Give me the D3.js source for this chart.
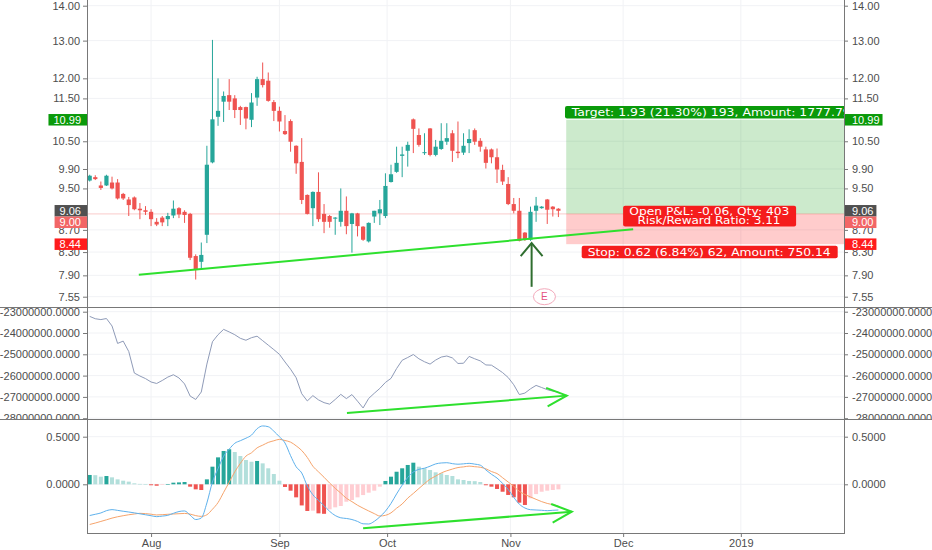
<!DOCTYPE html>
<html><head><meta charset="utf-8">
<script src="https://cdn.jsdelivr.net/npm/d3@7"></script>
<style>
body{margin:0;background:#fff;}
svg text{font-family:"Liberation Sans",Arial,sans-serif;}
</style>
</head><body>
<svg id="c" width="932" height="550"></svg>
<script>
// ---------- DATA ----------
const open = [9.66,9.73,9.56,9.56,9.62,9.62,9.39,9.28,9.32,9.10, 9.07,9.04,8.85,8.93,8.90,8.97,9.11,9.04,9.00,8.23, 8.13,8.61,10.04,11.06,11.42,11.58,11.50,11.29,11.29,10.99, 11.52,11.98,11.94,11.41,11.20,10.73,10.96,10.40,10.05,9.37, 9.11,9.43,9.00,8.96,8.91,8.85,9.06,8.81,9.01,8.76, 8.49,8.95,9.01,8.96,9.63,9.84,10.18,10.29,11.00,10.64, 10.24,10.79,10.20,10.33,10.49,10.68,10.27,10.25,10.46,10.75, 10.51,10.32,10.32,10.15,9.88,9.59,9.19,9.06,8.65,8.52, 9.06,9.11,9.28,9.14,9.10];
const high = [9.78,9.77,9.64,9.78,9.74,9.69,9.41,9.33,9.34,9.21, 9.15,9.09,8.92,8.96,9.02,9.26,9.13,9.07,9.02,8.26, 8.47,10.40,13.02,12.00,11.67,11.98,11.58,11.32,11.30,11.63, 12.04,12.41,12.15,11.46,11.30,11.10,11.00,10.41,10.57,9.38, 9.44,9.83,9.19,8.98,8.94,9.50,9.34,9.02,9.02,8.77, 8.84,9.06,9.27,9.81,9.99,10.38,10.38,10.49,11.02,10.79, 10.68,10.80,10.53,10.91,10.91,10.75,10.95,10.68,10.77,10.79, 10.57,10.38,10.34,10.34,9.99,9.73,9.31,9.31,8.66,9.14, 9.33,9.15,9.29,9.15,9.11];
const low = [9.64,9.67,9.47,9.55,9.48,9.28,9.27,8.96,9.07,8.90, 8.98,8.77,8.77,8.77,8.77,8.92,8.92,8.83,8.16,7.83, 7.99,8.46,10.02,10.85,10.94,11.22,11.03,10.87,10.77,10.82, 11.32,11.77,11.42,10.96,10.72,10.64,10.27,9.80,9.19,8.99, 8.77,8.85,8.64,8.74,8.61,8.76,8.62,8.29,8.58,8.50, 8.47,8.83,8.79,8.92,9.62,9.82,9.73,9.95,10.24,10.38, 10.20,10.17,10.17,10.31,10.42,10.05,10.13,10.20,10.24,10.42, 10.27,9.91,10.02,9.61,9.57,9.17,9.01,8.49,8.50,8.50, 8.85,9.10,8.81,8.95,8.94];
const close = [9.76,9.69,9.51,9.76,9.50,9.30,9.30,9.17,9.09,9.07, 9.04,8.90,8.80,8.84,8.96,9.10,8.99,8.98,8.20,8.00, 8.25,9.99,11.00,11.20,11.56,11.42,11.22,11.22,11.02,11.40, 11.98,11.83,11.44,11.20,10.95,10.66,10.49,10.02,9.27,9.00, 9.43,8.90,8.85,8.85,8.93,9.06,8.77,9.01,8.77,8.52, 8.83,9.06,9.09,9.55,9.79,10.03,10.21,10.42,10.78,10.42, 10.26,10.20,10.38,10.51,10.57,10.29,10.24,10.40,10.55,10.49, 10.38,10.03,10.15,9.89,9.64,9.19,9.06,8.50,8.53,9.04, 9.16,9.14,9.08,9.09,9.06];

// middle indicator (millions)
const obvM = [-23.22,-23.33,-23.37,-23.32,-23.67,-24.49,-24.38,-24.87,-25.88,-26.02,
-26.14,-26.30,-26.37,-26.23,-26.07,-25.96,-26.11,-26.39,-26.96,-27.12,
-26.77,-25.46,-24.41,-24.08,-23.83,-23.95,-24.08,-24.25,-24.34,-24.22,
-24.15,-24.36,-24.57,-24.78,-25.00,-25.36,-25.70,-26.10,-26.85,-27.19,
-26.94,-27.14,-27.27,-27.34,-27.12,-26.88,-27.08,-26.89,-27.20,-27.52,
-27.07,-26.83,-26.60,-26.32,-26.13,-25.67,-25.28,-25.15,-25.01,-25.21,
-25.35,-25.46,-25.27,-25.13,-25.08,-25.17,-25.43,-25.42,-25.10,-25.21,
-25.31,-25.50,-25.51,-25.68,-25.86,-26.09,-26.43,-26.89,-26.82,-26.62,
-26.46,-26.56,-26.66,-26.73,-26.77];

const macd = [-0.328,-0.315,-0.301,-0.277,-0.266,-0.274,-0.283,-0.291,-0.300,-0.310,
-0.320,-0.330,-0.340,-0.334,-0.326,-0.305,-0.286,-0.280,-0.324,-0.370,
-0.354,-0.196,0.024,0.164,0.295,0.369,0.431,0.458,0.484,0.517,
0.584,0.613,0.605,0.558,0.499,0.434,0.301,0.184,0.119,-0.018,
-0.110,-0.169,-0.225,-0.284,-0.328,-0.352,-0.359,-0.370,-0.390,-0.415,
-0.417,-0.389,-0.342,-0.282,-0.201,-0.101,-0.009,0.072,0.129,0.157,
0.169,0.190,0.214,0.224,0.227,0.217,0.211,0.215,0.220,0.212,
0.201,0.151,0.105,0.066,0.009,-0.054,-0.137,-0.209,-0.249,-0.267,
-0.270,-0.273,-0.277,-0.273,-0.270];
const signal = [-0.422,-0.407,-0.390,-0.373,-0.355,-0.341,-0.330,-0.320,-0.312,-0.305,
-0.308,-0.314,-0.322,-0.319,-0.315,-0.312,-0.309,-0.306,-0.313,-0.329,
-0.337,-0.320,-0.262,-0.192,-0.085,0.022,0.131,0.220,0.296,0.331,
0.383,0.411,0.440,0.457,0.472,0.460,0.443,0.404,0.355,0.282,
0.190,0.131,0.074,0.013,-0.042,-0.093,-0.146,-0.182,-0.220,-0.251,
-0.280,-0.308,-0.333,-0.326,-0.300,-0.251,-0.207,-0.145,-0.096,-0.044,
0.007,0.054,0.086,0.119,0.142,0.160,0.176,0.183,0.191,0.185,
0.179,0.163,0.134,0.113,0.069,0.024,-0.021,-0.074,-0.107,-0.133,
-0.158,-0.182,-0.201,-0.214,-0.228];
const hist = [0.098,0.096,0.080,0.087,0.073,0.052,0.038,0.028,0.010,0.004,
0.001,-0.010,-0.015,-0.007,0.002,0.017,0.020,0.024,-0.025,-0.053,
-0.060,0.052,0.185,0.283,0.350,0.368,0.339,0.297,0.255,0.237,
0.245,0.220,0.168,0.108,0.038,-0.028,-0.067,-0.137,-0.222,-0.280,
-0.277,-0.305,-0.310,-0.263,-0.242,-0.228,-0.183,-0.165,-0.137,-0.113,
-0.088,-0.067,-0.025,0.035,0.080,0.132,0.168,0.203,0.227,0.185,
0.168,0.150,0.126,0.116,0.098,0.087,0.052,0.045,0.035,0.033,
0.024,-0.010,-0.025,-0.049,-0.078,-0.112,-0.137,-0.193,-0.217,-0.147,
-0.103,-0.078,-0.067,-0.060,-0.053];

const xTickLabels = ["Aug","Sep","Oct","Nov","Dec","2019"];
const xTickPos = [11, 34, 53.3, 75.4, 95.6, 116.7];   // in bar units
const priceTicks = [14, 13, 12, 11.5, 10.5, 9.9, 9.5, 8.7, 8.3, 7.9, 7.55];
const obvTicks = [-23, -24, -25, -26, -27, -28];       // millions
const macdTicks = [0, 0.5];
const priceMarks = [10.99, 9.06, 9.00, 8.44];

// position tool
const posStartIdx = 85.4, posEndIdx = 140;
const posEntry = 9.00, posTarget = 10.99, posStop = 8.44;
const targetText = "Target: 1.93 (21.30%) 193, Amount: 1777.79";
const pnlText = ["Open P&L: -0.06, Qty: 403", "Risk/Reward Ratio: 3.11"];
const stopText = "Stop: 0.62 (6.84%) 62, Amount: 750.14";

// drawings (bar index, value)
const trendLine = [{i: 8.8, v: 7.91}, {i: 97.4, v: 8.71}];
const entryArrow = [{i: 79.2, v: 7.71}, {i: 79.2, v: 8.46}];
const earnings = {i: 81.5, v: 7.55, label: "E"};
const obvArrow = [{i: 46.1, v: -27.76}, {i: 85.5, v: -26.94}];
const macdArrow = [{i: 49.0, v: -0.462}, {i: 86.4, v: -0.288}];

// ---------- SETUP ----------
const svg = d3.select("#c");
const XL = 87, XR = 844;
const UP = "#26a69a", DN = "#ef5350";
const AX = "#787878", TXT = "#4d4d4d", GRID = "#f1f2f5";
const FONT = "Liberation Sans, Arial, sans-serif";

const x = d3.scaleLinear().domain([0, 84]).range([89.7, 558.4]);
const yP = d3.scaleLog().domain([7.55, 14]).range([296.7, 5.7]);
const yO = d3.scaleLinear().domain([-23, -28]).range([311.7, 418.2]);
const yM = d3.scaleLinear().domain([0, 0.5]).range([484.3, 436.7]);

const defs = svg.append("defs");
function clip(id, x0, y0, w, h) {
  defs.append("clipPath").attr("id", id).append("rect").attr("x", x0).attr("y", y0).attr("width", w).attr("height", h);
}
clip("cP", XL, 0, XR - XL, 307);
clip("cO", XL, 307, XR - XL, 112);
clip("cM", XL, 419, XR - XL, 114);
clip("aO", 0, 307.5, 932, 111.5);
clip("aM", 0, 419.5, 932, 113.5);

// ---------- GRID ----------
const grid = svg.append("g");
grid.selectAll("line.v").data(xTickPos).join("line")
  .attr("x1", d => x(d)).attr("x2", d => x(d)).attr("y1", 0).attr("y2", 533)
  .attr("stroke", GRID).attr("stroke-width", 1);
grid.selectAll("line.hp").data(priceTicks).join("line").attr("class","hp")
  .attr("x1", XL).attr("x2", XR).attr("y1", d => yP(d)).attr("y2", d => yP(d))
  .attr("stroke", GRID);
grid.selectAll("line.ho").data(obvTicks).join("line").attr("class","ho")
  .attr("x1", XL).attr("x2", XR).attr("y1", d => yO(d)).attr("y2", d => yO(d))
  .attr("stroke", GRID);
grid.selectAll("line.hm").data(macdTicks).join("line").attr("class","hm")
  .attr("x1", XL).attr("x2", XR).attr("y1", d => yM(d)).attr("y2", d => yM(d))
  .attr("stroke", GRID);

// ---------- PRICE PANE ----------
const gp = svg.append("g").attr("clip-path", "url(#cP)");
// position tool zones
gp.append("rect").attr("x", x(posStartIdx)).attr("width", x(posEndIdx) - x(posStartIdx))
  .attr("y", yP(posTarget)).attr("height", yP(posEntry) - yP(posTarget))
  .attr("fill", "rgba(0,150,0,0.2)");
gp.append("rect").attr("x", x(posStartIdx)).attr("width", x(posEndIdx) - x(posStartIdx))
  .attr("y", yP(posEntry)).attr("height", yP(posStop) - yP(posEntry))
  .attr("fill", "rgba(255,0,0,0.2)");
// entry line
gp.append("line").attr("x1", XL).attr("x2", XR).attr("y1", yP(posEntry)).attr("y2", yP(posEntry))
  .attr("stroke", "rgba(239,83,80,0.3)").attr("stroke-width", 1);

const idx = d3.range(open.length);
gp.selectAll("line.wick").data(idx).join("line").attr("class","wick")
  .attr("x1", i => x(i)).attr("x2", i => x(i))
  .attr("y1", i => yP(high[i])).attr("y2", i => yP(low[i]))
  .attr("stroke", i => close[i] >= open[i] ? UP : DN).attr("stroke-width", 1);
gp.selectAll("rect.body").data(idx).join("rect").attr("class","body")
  .attr("x", i => x(i) - 2.1).attr("width", 4.2)
  .attr("y", i => yP(Math.max(open[i], close[i])))
  .attr("height", i => Math.max(1, Math.abs(yP(open[i]) - yP(close[i]))))
  .attr("fill", i => close[i] >= open[i] ? UP : DN);

// trend line
gp.append("line")
  .attr("x1", x(trendLine[0].i)).attr("y1", yP(trendLine[0].v))
  .attr("x2", x(trendLine[1].i)).attr("y2", yP(trendLine[1].v))
  .attr("stroke", "#2ee02e").attr("stroke-width", 2);

function arrow(g, x1, y1, x2, y2, color, w, len, ang) {
  const a = Math.atan2(y1 - y2, x1 - x2);
  const r = ang * Math.PI / 180;
  g.append("line").attr("x1", x1).attr("y1", y1).attr("x2", x2).attr("y2", y2)
    .attr("stroke", color).attr("stroke-width", w);
  const p = [[x2 + len * Math.cos(a + r), y2 + len * Math.sin(a + r)], [x2, y2],
             [x2 + len * Math.cos(a - r), y2 + len * Math.sin(a - r)]];
  g.append("path").attr("d", d3.line()(p)).attr("fill", "none")
    .attr("stroke", color).attr("stroke-width", w);
}
arrow(gp, x(entryArrow[0].i), yP(entryArrow[0].v), x(entryArrow[1].i), yP(entryArrow[1].v),
      "#2f6e2f", 2, 17, 40);

// earnings marker
const eg = gp.append("g").attr("transform", `translate(${x(earnings.i)},${yP(earnings.v)})`);
eg.append("ellipse").attr("rx", 11).attr("ry", 8).attr("fill", "#fff")
  .attr("stroke", "#f3a9bb").attr("stroke-width", 1);
eg.append("text").attr("text-anchor", "middle").attr("dy", "0.36em")
  .attr("fill", "#e4507e").style("font-size", "10px").style("font-family", FONT).text(earnings.label);

// position labels
function labelBox(g, cx, cy, w, h, fill) {
  g.append("rect").attr("x", cx - w / 2).attr("y", cy - h / 2).attr("width", w).attr("height", h)
    .attr("rx", 2).attr("fill", fill);
}
const LF = "DejaVu Sans, Verdana, sans-serif";
// target
gp.append("rect").attr("x", 565).attr("y", yP(posTarget) - 13.8).attr("width", 300).attr("height", 12.4)
  .attr("rx", 2).attr("fill", "#0a9a0a");
gp.append("text").attr("x", 571.7).attr("y", yP(posTarget) - 7.6).attr("dy", "0.35em")
  .attr("fill", "#fff").style("font-size", "10.5px").style("font-family", LF)
  .attr("textLength", 279).attr("lengthAdjust", "spacingAndGlyphs").text(targetText);
// open P&L
const pnlY = yP(posEntry) + 2.2;
labelBox(gp, 709.6, pnlY, 173, 20.8, "#f51c1c");
gp.append("text").attr("x", 709.3).attr("y", pnlY - 4.6).attr("dy", "0.35em").attr("text-anchor", "middle")
  .attr("fill", "#fff").style("font-size", "10.5px").style("font-family", LF)
  .attr("textLength", 160).attr("lengthAdjust", "spacingAndGlyphs").text(pnlText[0]);
gp.append("text").attr("x", 709).attr("y", pnlY + 4.2).attr("dy", "0.35em").attr("text-anchor", "middle")
  .attr("fill", "#fff").style("font-size", "10.5px").style("font-family", LF)
  .attr("textLength", 143).attr("lengthAdjust", "spacingAndGlyphs").text(pnlText[1]);
// stop
const stY = yP(posStop) + 7.8;
labelBox(gp, 709.7, stY, 256, 12.6, "#f51c1c");
gp.append("text").attr("x", 709.2).attr("y", stY).attr("dy", "0.35em").attr("text-anchor", "middle")
  .attr("fill", "#fff").style("font-size", "10.5px").style("font-family", LF)
  .attr("textLength", 243).attr("lengthAdjust", "spacingAndGlyphs").text(stopText);

// ---------- OBV PANE ----------
const go = svg.append("g").attr("clip-path", "url(#cO)");
go.append("path").datum(idx)
  .attr("d", d3.line().x(i => x(i)).y(i => yO(obvM[i])))
  .attr("fill", "none").attr("stroke", "#8f9bb8").attr("stroke-width", 1);
arrow(go, x(obvArrow[0].i), yO(obvArrow[0].v), x(obvArrow[1].i), yO(obvArrow[1].v),
      "#2ee02e", 2, 22, 25);

// ---------- MACD PANE ----------
const gm = svg.append("g").attr("clip-path", "url(#cM)");
function histColor(i) {
  const v = hist[i], p = i > 0 ? hist[i - 1] : -Infinity;
  if (v >= 0) return v >= p ? "#26a69a" : "#b2dfdb";
  return v < p ? "#ef5350" : "#ffcdd2";
}
gm.selectAll("rect.h").data(idx).join("rect").attr("class","h")
  .attr("x", i => x(i) - 2).attr("width", 4)
  .attr("y", i => Math.min(yM(0), yM(hist[i])))
  .attr("height", i => Math.max(0.6, Math.abs(yM(hist[i]) - yM(0))))
  .attr("fill", histColor);
gm.append("path").datum(idx)
  .attr("d", d3.line().curve(d3.curveMonotoneX).x(i => x(i)).y(i => yM(signal[i])))
  .attr("fill", "none").attr("stroke", "#f6a46c").attr("stroke-width", 1);
gm.append("path").datum(idx)
  .attr("d", d3.line().curve(d3.curveMonotoneX).x(i => x(i)).y(i => yM(macd[i])))
  .attr("fill", "none").attr("stroke", "#5eb1ec").attr("stroke-width", 1);
arrow(gm, x(macdArrow[0].i), yM(macdArrow[0].v), x(macdArrow[1].i), yM(macdArrow[1].v),
      "#2ee02e", 2, 22, 25);

// ---------- AXES ----------
function styleAxis(g) {
  g.select(".domain").remove();
  g.selectAll(".tick line").attr("stroke", AX);
  g.selectAll(".tick text").attr("fill", TXT).style("font-size", "11px").style("font-family", FONT);
}
const fP = d3.format(".2f");
const fO = d => (d * 1e6).toFixed(4);
const fM = d => d.toFixed(4);
svg.append("g").attr("transform", `translate(${XL},0)`)
  .call(d3.axisLeft(yP).tickValues(priceTicks).tickFormat(fP).tickSize(4).tickPadding(3)).call(styleAxis);
svg.append("g").attr("transform", `translate(${XR},0)`)
  .call(d3.axisRight(yP).tickValues(priceTicks).tickFormat(fP).tickSize(4).tickPadding(4)).call(styleAxis);
svg.append("g").attr("clip-path", "url(#aO)").append("g").attr("transform", `translate(${XL},0)`)
  .call(d3.axisLeft(yO).tickValues(obvTicks).tickFormat(fO).tickSize(4).tickPadding(3)).call(styleAxis);
svg.append("g").attr("clip-path", "url(#aO)").append("g").attr("transform", `translate(${XR},0)`)
  .call(d3.axisRight(yO).tickValues(obvTicks).tickFormat(fO).tickSize(4).tickPadding(4)).call(styleAxis);
svg.append("g").attr("clip-path", "url(#aM)").append("g").attr("transform", `translate(${XL},0)`)
  .call(d3.axisLeft(yM).tickValues(macdTicks).tickFormat(fM).tickSize(4).tickPadding(3)).call(styleAxis);
svg.append("g").attr("clip-path", "url(#aM)").append("g").attr("transform", `translate(${XR},0)`)
  .call(d3.axisRight(yM).tickValues(macdTicks).tickFormat(fM).tickSize(4).tickPadding(4)).call(styleAxis);
svg.append("g").attr("transform", "translate(0,533)")
  .call(d3.axisBottom(x).tickValues(xTickPos).tickFormat((d, i) => xTickLabels[i]).tickSize(4).tickPadding(2))
  .call(styleAxis);

// ---------- FRAME ----------
const fr = svg.append("g").attr("stroke", AX).attr("stroke-width", 1);
fr.append("line").attr("x1", XL + 0.5).attr("x2", XL + 0.5).attr("y1", 0).attr("y2", 534);
fr.append("line").attr("x1", XR + 0.5).attr("x2", XR + 0.5).attr("y1", 0).attr("y2", 534);
fr.append("line").attr("x1", 0).attr("x2", 932).attr("y1", 307.5).attr("y2", 307.5);
fr.append("line").attr("x1", 0).attr("x2", 932).attr("y1", 419.5).attr("y2", 419.5);
fr.append("line").attr("x1", XL).attr("x2", XR + 1).attr("y1", 533.5).attr("y2", 533.5);

// ---------- PRICE MARK LABELS ----------
const markColors = ["#0a9a0a", "#505050", "#f26666", "#ff1c1c"];
let prev = -Infinity;
const marks = priceMarks.map((v, k) => {
  const c = Math.max(yP(v), prev + 11.5); prev = c; return {v, c, col: markColors[k]};
});
const ml = svg.append("g");
marks.forEach(m => {
  const t = fP(m.v);
  const tmp = ml.append("text").style("font-size", "11px").style("font-family", FONT).text(t);
  const tw = tmp.node().getComputedTextLength(); tmp.remove();
  // left
  ml.append("rect").attr("x", 81 - tw - 5).attr("y", m.c - 5.75).attr("width", tw + 11).attr("height", 11.5).attr("fill", m.col);
  ml.append("text").attr("x", 81).attr("y", m.c).attr("dy", "0.36em").attr("text-anchor", "end")
    .attr("fill", "#fff").style("font-size", "11px").style("font-family", FONT).text(t);
  // right
  ml.append("rect").attr("x", XR + 1).attr("y", m.c - 5.75).attr("width", tw + 10).attr("height", 11.5).attr("fill", m.col);
  ml.append("text").attr("x", 852).attr("y", m.c).attr("dy", "0.36em")
    .attr("fill", "#fff").style("font-size", "11px").style("font-family", FONT).text(t);
});
</script>
</body></html>
